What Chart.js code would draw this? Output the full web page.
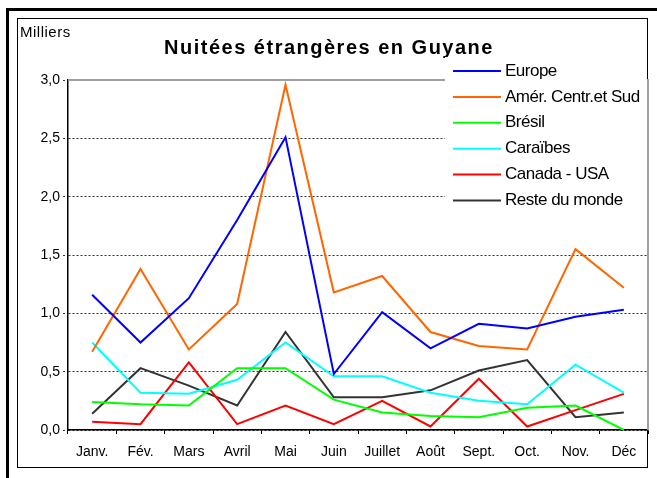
<!DOCTYPE html>
<html>
<head>
<meta charset="utf-8">
<script src="https://cdn.jsdelivr.net/npm/chart.js@4/dist/chart.umd.min.js"></script>
<style>
  body { margin: 0; background: #fff; }
  #wrap { width: 657px; height: 478px; }
</style>
</head>
<body>
<div id="wrap"><canvas id="chart" width="657" height="478"></canvas></div>
<script>
// ===== Données (milliers de nuitées) =====
const months = ['Janv.', 'Fév.', 'Mars', 'Avril', 'Mai', 'Juin', 'Juillet', 'Août', 'Sept.', 'Oct.', 'Nov.', 'Déc'];
const europe    = [1.16, 0.75, 1.13, 1.80, 2.51, 0.48, 1.01, 0.70, 0.91, 0.87, 0.97, 1.03];
const amerique  = [0.67, 1.38, 0.69, 1.08, 2.96, 1.18, 1.32, 0.84, 0.72, 0.69, 1.55, 1.22];
const bresil    = [0.24, 0.22, 0.21, 0.53, 0.53, 0.26, 0.15, 0.12, 0.11, 0.19, 0.21, 0.00];
const caraibes  = [0.75, 0.32, 0.31, 0.43, 0.75, 0.46, 0.46, 0.32, 0.25, 0.22, 0.56, 0.32];
const canadaUsa = [0.07, 0.05, 0.58, 0.05, 0.21, 0.05, 0.25, 0.03, 0.44, 0.03, 0.17, 0.31];
const reste     = [0.14, 0.53, 0.38, 0.21, 0.84, 0.28, 0.28, 0.34, 0.51, 0.60, 0.11, 0.15];
const yLabels = ['0,0', '0,5', '1,0', '1,5', '2,0', '2,5', '3,0'];

const seriesNames = ['Europe', 'Amér. Centr.et Sud', 'Brésil', 'Caraïbes', 'Canada - USA', 'Reste du monde'];
const seriesColors = ['#0000ff', '#ff6600', '#00ff00', '#00ffff', '#ff0000', '#333333'];
const seriesData = [europe, amerique, bresil, caraibes, canadaUsa, reste];

const FONT = "'Liberation Sans', Arial, sans-serif";

// ===== Cadres, titre, légende =====
const decor = {
  id: 'decor',
  beforeDraw(chart) {
    const c = chart.ctx;
    c.save();
    c.fillStyle = '#fff';
    c.fillRect(0, 0, chart.width, chart.height);
    // cadre extérieur épais
    c.strokeStyle = '#000';
    c.lineWidth = 3;
    c.strokeRect(7.5, 9.5, 700, 520);
    // cadre intérieur
    c.lineWidth = 1;
    c.strokeRect(17.5, 18.5, 630, 449);
    // titre
    c.fillStyle = '#000';
    c.font = 'bold 20px ' + FONT;
    c.letterSpacing = '1.5px';
    c.textAlign = 'center';
    c.textBaseline = 'middle';
    c.fillText('Nuitées étrangères en Guyane', 329, 48);
    c.letterSpacing = '0.5px';
    c.font = '15px ' + FONT;
    c.textAlign = 'left';
    c.fillText('Milliers', 20, 33);
    c.restore();
  },
  afterDatasetsDraw(chart) {
    const c = chart.ctx;
    const a = chart.chartArea;
    c.save();
    // bordure grise de la zone de traçage
    c.strokeStyle = '#a0a0a0';
    c.lineWidth = 2;
    c.beginPath();
    c.moveTo(a.left, a.top);
    c.lineTo(a.right, a.top);
    c.lineTo(a.right, a.bottom);
    c.stroke();
    // légende
    c.fillStyle = '#fff';
    c.fillRect(445, 57, 202, 161);
    c.font = '17px ' + FONT;
    c.letterSpacing = '-0.5px';
    c.textAlign = 'left';
    c.textBaseline = 'middle';
    chart.data.datasets.forEach((ds, i) => {
      const y = 71 + i * 25.9;
      c.strokeStyle = ds.borderColor;
      c.lineWidth = 2;
      c.beginPath();
      c.moveTo(453, y);
      c.lineTo(501, y);
      c.stroke();
      c.fillStyle = '#000';
      c.fillText(ds.label, 505, y);
    });
    c.restore();
  }
};

new Chart(document.getElementById('chart'), {
  type: 'line',
  data: {
    labels: months,
    datasets: seriesNames.map((name, i) => ({
      label: name,
      data: seriesData[i],
      borderColor: seriesColors[i],
      backgroundColor: seriesColors[i],
      borderWidth: 2,
      pointRadius: 0,
      tension: 0,
      fill: false
    }))
  },
  options: {
    responsive: false,
    animation: false,
    layout: { padding: { top: 80, right: 9, left: 0, bottom: 18 } },
    plugins: {
      legend: { display: false },
      title: { display: false },
      tooltip: { enabled: false }
    },
    scales: {
      x: {
        offset: true,
        afterFit: s => { s.height = 30; },
        grid: {
          offset: true,
          drawOnChartArea: false,
          tickLength: 4,
          tickColor: '#000'
        },
        border: { color: '#000', width: 1.5 },
        ticks: {
          color: '#000',
          padding: 10,
          maxRotation: 0,
          autoSkip: false,
          font: { family: FONT, size: 14 }
        }
      },
      y: {
        min: 0,
        max: 3,
        afterFit: s => { s.width = 68; },
        ticks: {
          stepSize: 0.5,
          color: '#000',
          padding: 3,
          font: { family: FONT, size: 14 },
          callback: (v, i) => yLabels[i]
        },
        grid: {
          color: '#333',
          lineWidth: 1,
          tickLength: 5,
          tickColor: '#333',
          tickBorderDash: [2, 2]
        },
        border: { color: '#000', width: 1.5, dash: [2, 2] }
      }
    }
  },
  plugins: [decor]
});
</script>
</body>
</html>
